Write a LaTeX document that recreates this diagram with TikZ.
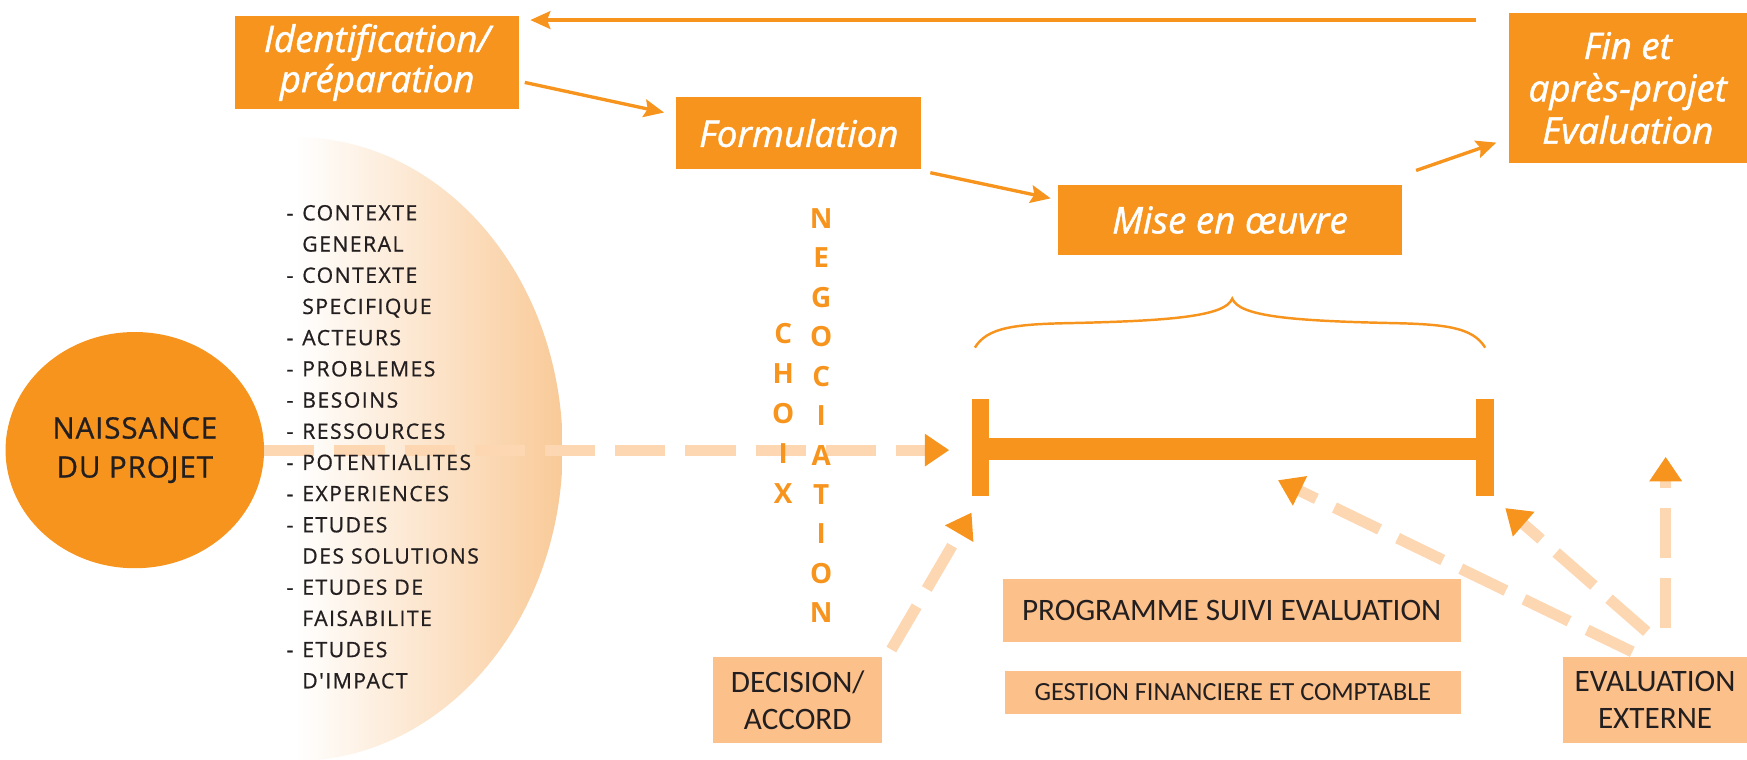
\documentclass[tikz,border=0pt]{standalone}
\usepackage{fontspec}
\setmainfont{Carlito}
\newfontfamily\osans{Open Sans}
\newfontfamily\osansfb[FakeBold=1.2]{Open Sans}
\newfontfamily\osanslist[FakeBold=0.8, LetterSpace=3]{Open Sans}
\newfontfamily\osanslistw[FakeBold=0.8, LetterSpace=7]{Open Sans}
\usetikzlibrary{arrows.meta,shapes.geometric}
\definecolor{org}{RGB}{247,148,29}
\definecolor{peach}{RGB}{252,192,138}
\definecolor{dpeach}{RGB}{253,214,178}
\definecolor{disk}{RGB}{249,202,152}
\definecolor{ink}{RGB}{35,31,32}
\begin{document}
\begin{tikzpicture}[x=1pt,y=-1pt,
  title/.style={fill=org, text=white, inner sep=0pt, align=center,
    font=\osansfb\itshape\fontsize{33}{36}\selectfont},
  pbox/.style={fill=peach, text=ink, inner sep=0pt, align=center,
    font=\fontsize{28}{33}\selectfont},
  thinarrow/.style={draw=org, line width=3pt, -{Stealth[length=18pt,width=16pt,inset=3pt]}},
  dasharrow/.style={draw=dpeach, line width=10pt, dash pattern=on 45pt off 18pt,
    -{Triangle[length=22pt,width=28pt,color=org]}},
  vlet/.style={text=org, inner sep=0pt, font=\osans\bfseries\fontsize{25}{30}\selectfont},
]
\useasboundingbox (0,0) rectangle (1568,682);
% half disc with gradient
\shade[left color=white, right color=disk] (265,123) arc[start angle=-90, end angle=90, x radius=240, y radius=280] -- cycle;

% nodes
\node[ellipse, fill=org, minimum width=232pt, minimum height=212pt, inner sep=0pt, align=center,
  text=ink, font=\osanslist\fontsize{26.5}{35}\selectfont] (nais) at (121,404) {NAISSANCE\\DU PROJET};

\coordinate (hTip) at (852,404);
\coordinate (d1tail) at (800,583);
\coordinate (d1tip) at (872,460);
\coordinate (e1tail) at (1465,585);
\coordinate (e1tip) at (1147,431);
\coordinate (e2tail) at (1478,567);
\coordinate (e2tip) at (1351,456);
\coordinate (e3tail) at (1495,564);
\coordinate (e3tip) at (1495,410);

% dashed connectors (behind text)
\draw[dasharrow] (nais.east) -- (hTip);
\draw[dasharrow] (d1tail) -- (d1tip);
\draw[dasharrow] (e1tail) -- (e1tip);
\draw[dasharrow] (e2tail) -- (e2tip);
\draw[dasharrow] (e3tail) -- (e3tip);

% list
\node[anchor=north west, inner sep=0pt, text=ink,
  font=\osanslistw\fontsize{19}{28}\selectfont] (list) at (257,178) {%
\begin{tabular}{@{}l@{\hspace{8pt}}l@{}}
- & CONTEXTE\\
  & GENERAL\\
- & CONTEXTE\\
  & SPECIFIQUE\\
- & ACTEURS\\
- & PROBLEMES\\
- & BESOINS\\
- & RESSOURCES\\
- & POTENTIALITES\\
- & EXPERIENCES\\
- & ETUDES\\
  & DES SOLUTIONS\\
- & ETUDES DE\\
  & FAISABILITE\\
- & ETUDES\\
  & D'IMPACT
\end{tabular}};

% title boxes
\node[title, minimum width=255pt, minimum height=84pt] (ident) at (338.5,56) {Identification/\\préparation};
\node[title, minimum width=220pt, minimum height=65pt] (form) at (717,119.5) {Formulation};
\node[title, minimum width=308pt, minimum height=63pt] (mise) at (1104,197.5) {Mise en œuvre};
\node[title, minimum width=214pt, minimum height=134pt, font=\osansfb\itshape\fontsize{33}{38}\selectfont] (fin) at (1461,79) {Fin et\\après-projet\\Evaluation};

% peach boxes
\node[pbox, minimum width=411pt, minimum height=56pt] (prog) at (1105.5,548) {PROGRAMME SUIVI EVALUATION};
\node[pbox, minimum width=409pt, minimum height=39pt, font=\fontsize{23.5}{28}\selectfont] (gest) at (1106.5,621.5) {GESTION FINANCIERE ET COMPTABLE};
\node[pbox, minimum width=152pt, minimum height=77pt] (dec) at (716,628.5) {DECISION/\\ACCORD};
\node[pbox, minimum width=165pt, minimum height=77pt] (evx) at (1485.5,628.5) {EVALUATION\\EXTERNE};

% thin arrows
\coordinate (topS) at (1325,18);
\coordinate (topE) at (476,18);
\coordinate (ifS) at (471,74);
\coordinate (ifE) at (596,101);
\coordinate (fmS) at (835,155);
\coordinate (fmE) at (943,178);
\coordinate (mfS) at (1271,153);
\coordinate (mfE) at (1343,128);
\draw[thinarrow] (topS) -- (topE);
\draw[thinarrow] (ifS) -- (ifE);
\draw[thinarrow] (fmS) -- (fmE);
\draw[thinarrow] (mfS) -- (mfE);

% timeline bar
\fill[org] (872,358) rectangle (888,445);
\fill[org] (1325,358) rectangle (1341,445);
\fill[org] (888,393) rectangle (1325,413);

% brace
\draw[org, line width=2.2pt] (875,312) .. controls (886,294) and (910,291) .. (960,290)
  .. controls (1050,288) and (1100,284) .. (1106,268)
  .. controls (1112,284) and (1160,288) .. (1250,290)
  .. controls (1298,291) and (1322,294) .. (1333,312);

% vertical words
\foreach \l [count=\i] in {C,H,O,I,X}
  \node[vlet] (ch\i) at (703,{299+36*(\i-1)}) {\l};
\foreach \l [count=\i] in {N,E,G,O,C,I,A,T,I,O,N}
  \node[vlet] (ng\i) at (737,{196+35.4*(\i-1)}) {\l};
\end{tikzpicture}
\end{document}
